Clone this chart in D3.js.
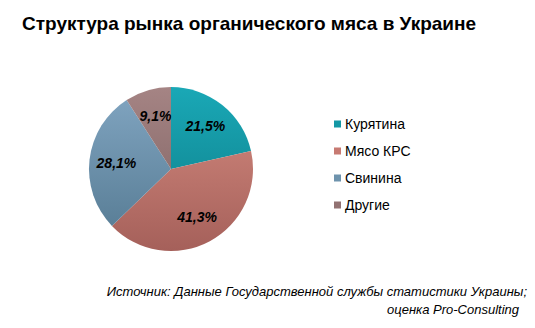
<!DOCTYPE html>
<html><head><meta charset="utf-8">
<script src="https://cdn.jsdelivr.net/npm/d3@7/dist/d3.min.js"></script>
<style>body{margin:0;background:#fff;}svg{display:block;font-family:"Liberation Sans",Arial,sans-serif;}</style>
</head><body>
<svg id="c" width="535" height="328"></svg>
<script>
const title = "Структура рынка органического мяса в Украине";
const categories = ["Курятина", "Мясо КРС", "Свинина", "Другие"];
const values = [21.5, 41.3, 28.1, 9.1];
const labels = ["21,5%", "41,3%", "28,1%", "9,1%"];
const colorsTop = ["#1aa8b6", "#d68c81", "#82a6c2", "#a58484"];
const colorsBottom = ["#0c7a85", "#a5605a", "#537890", "#7a5e5e"];
const legendColors = ["#1398a5", "#c77a72", "#6e93ad", "#927272"];
const sourceLines = ["Источник: Данные Государственной службы статистики Украины;", "оценка Pro-Consulting"];

const svg = d3.select("#c");
const cx = 171, cy = 169, r = 82;

svg.append("text").attr("x", 22).attr("y", 30)
  .attr("font-size", 19).attr("font-weight", "bold").attr("fill", "#000").text(title);

const defs = svg.append("defs");
categories.forEach((c, i) => {
  const gr = defs.append("linearGradient").attr("id", "g" + i)
    .attr("gradientUnits", "userSpaceOnUse")
    .attr("x1", 0).attr("y1", -r).attr("x2", 0).attr("y2", r);
  gr.append("stop").attr("offset", "0%").attr("stop-color", colorsTop[i]);
  gr.append("stop").attr("offset", "100%").attr("stop-color", colorsBottom[i]);
});

const pie = d3.pie().sort(null).value(d => d);
const arcs = pie(values);
const arc = d3.arc().innerRadius(0).outerRadius(r);
const labelArc = d3.arc().innerRadius(0).outerRadius(r * 1.34);

const g = svg.append("g").attr("transform", `translate(${cx},${cy})`);
g.selectAll("path").data(arcs).join("path")
  .attr("d", arc)
  .attr("fill", (d, i) => `url(#g${i})`);

g.selectAll("text").data(arcs).join("text")
  .attr("transform", d => { const [x, y] = labelArc.centroid(d); return `translate(${x},${y})`; })
  .attr("text-anchor", "middle").attr("dy", "0.36em")
  .attr("font-size", 14).attr("font-weight", "bold").attr("font-style", "italic")
  .attr("fill", "#000")
  .text((d, i) => labels[i]);

const lg = svg.append("g");
const legendY = d3.scalePoint().domain(categories).range([124, 205]);
categories.forEach((c, i) => {
  const y = legendY(c);
  lg.append("rect").attr("x", 334).attr("y", y - 3.5).attr("width", 7).attr("height", 7).attr("fill", legendColors[i]);
  lg.append("text").attr("x", 345).attr("y", y).attr("dy", "0.36em")
    .attr("font-size", 14).attr("fill", "#000").text(c);
});

svg.append("text").attr("x", 527).attr("y", 296).attr("text-anchor", "end")
  .attr("font-size", 13).attr("font-style", "italic").attr("fill", "#000").text(sourceLines[0]);
svg.append("text").attr("x", 519).attr("y", 314).attr("text-anchor", "end")
  .attr("font-size", 13).attr("font-style", "italic").attr("fill", "#000").text(sourceLines[1]);
</script>
</body></html>
